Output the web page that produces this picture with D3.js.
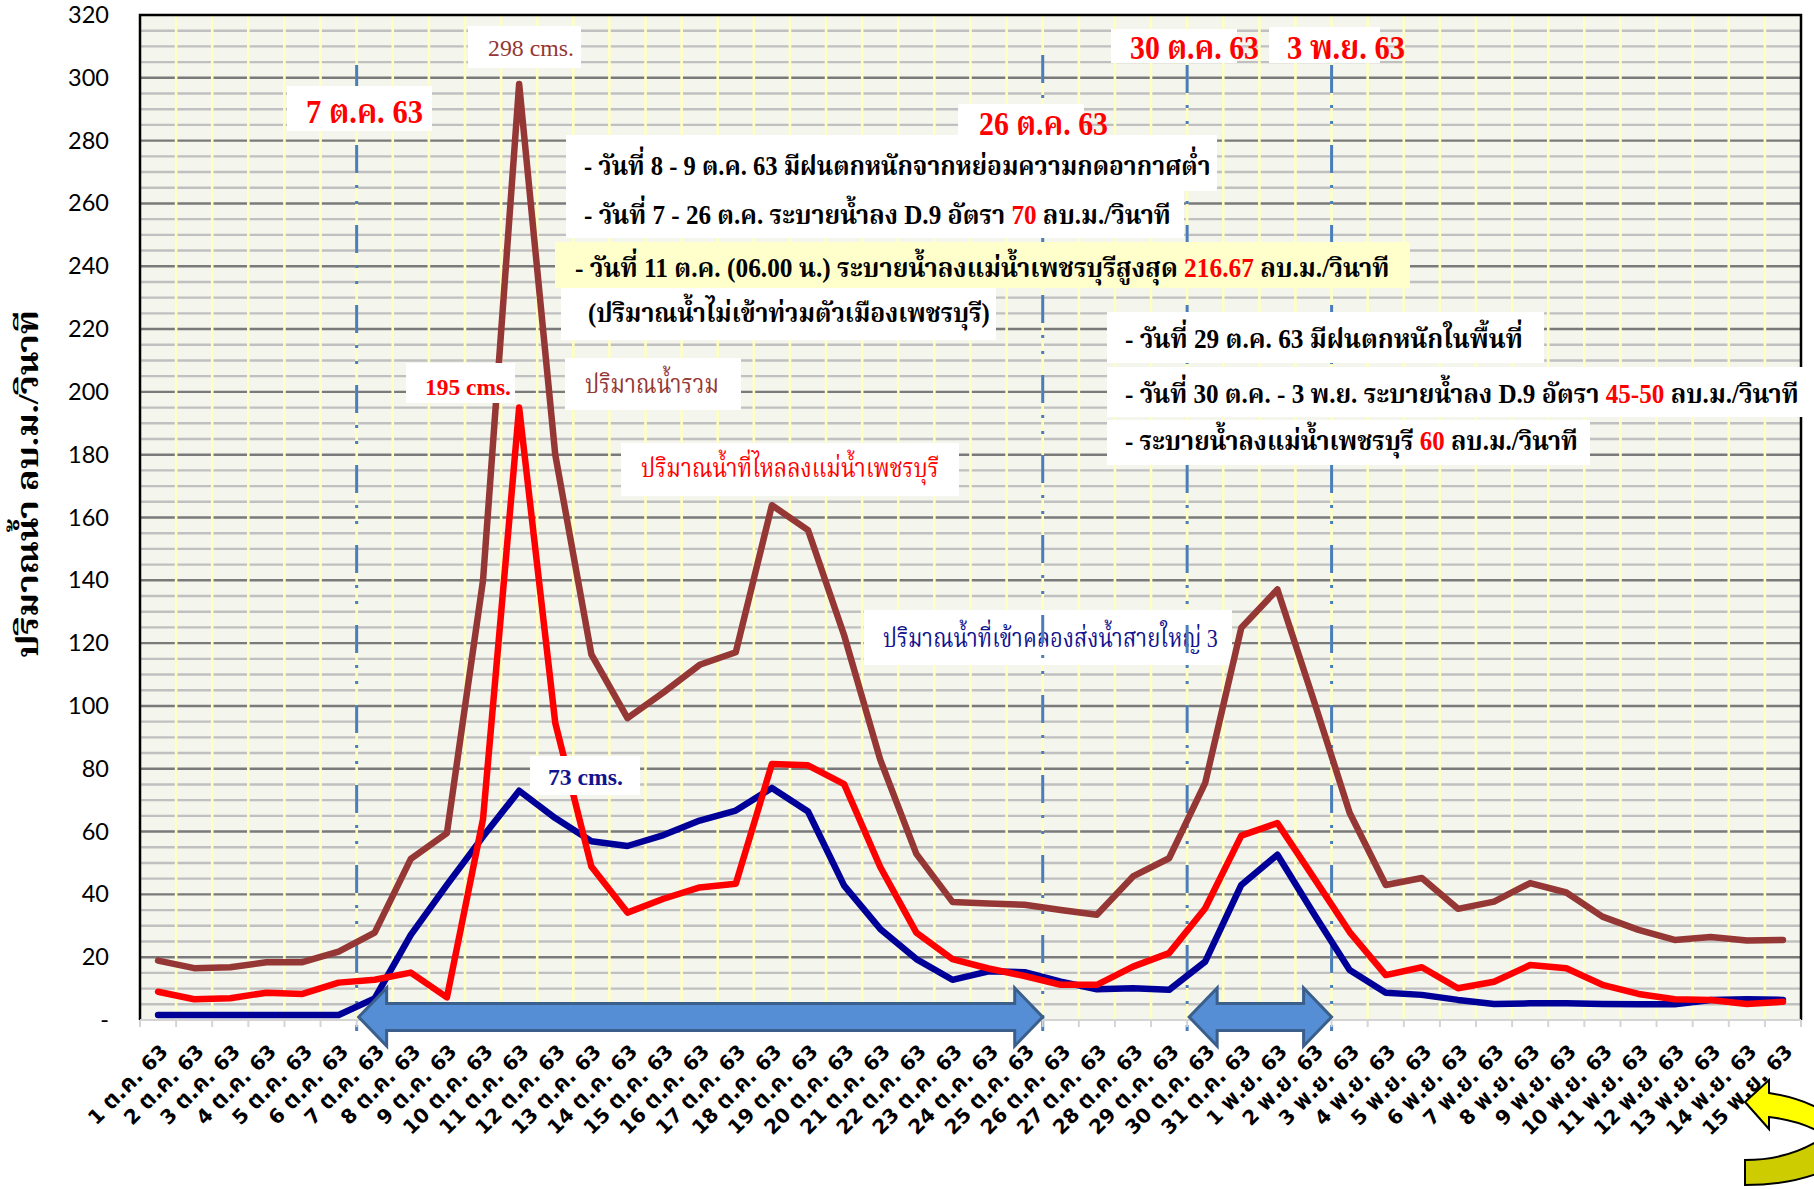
<!DOCTYPE html>
<html>
<head>
<meta charset="utf-8">
<script src="https://cdn.jsdelivr.net/npm/d3@7"></script>
<style>
  html, body { margin: 0; padding: 0; background: #ffffff; }
  svg { display: block; }
</style>
</head>
<body>
<svg id="chart" width="1814" height="1189"></svg>
<script>
// Daily flows, 1 Oct 2020 (2563) – 15 Nov 2020, cubic metres per second
const categories = [
  "1 ต.ค. 63", "2 ต.ค. 63", "3 ต.ค. 63", "4 ต.ค. 63", "5 ต.ค. 63", "6 ต.ค. 63", "7 ต.ค. 63",
  "8 ต.ค. 63", "9 ต.ค. 63", "10 ต.ค. 63", "11 ต.ค. 63", "12 ต.ค. 63", "13 ต.ค. 63", "14 ต.ค. 63",
  "15 ต.ค. 63", "16 ต.ค. 63", "17 ต.ค. 63", "18 ต.ค. 63", "19 ต.ค. 63", "20 ต.ค. 63", "21 ต.ค. 63",
  "22 ต.ค. 63", "23 ต.ค. 63", "24 ต.ค. 63", "25 ต.ค. 63", "26 ต.ค. 63", "27 ต.ค. 63", "28 ต.ค. 63",
  "29 ต.ค. 63", "30 ต.ค. 63", "31 ต.ค. 63",
  "1 พ.ย. 63", "2 พ.ย. 63", "3 พ.ย. 63", "4 พ.ย. 63", "5 พ.ย. 63", "6 พ.ย. 63", "7 พ.ย. 63",
  "8 พ.ย. 63", "9 พ.ย. 63", "10 พ.ย. 63", "11 พ.ย. 63", "12 พ.ย. 63", "13 พ.ย. 63", "14 พ.ย. 63",
  "15 พ.ย. 63"
];

// ปริมาณน้ำรวม (total)
const totalFlow = [
  18.9, 16.5, 16.8, 18.4, 18.4, 21.8, 27.8, 51.3, 59.5, 140, 298, 180, 116.4, 96.1,
  104.3, 113.1, 117.1, 163.9, 156, 122.5, 82.9, 52.9, 37.6, 37.1, 36.7, 35, 33.5, 45.7,
  51.5, 75.5, 124.9,
  137.1, 102, 66, 43, 45.2, 35.4, 37.7, 43.6, 40.6, 32.9, 28.7, 25.5, 26.4, 25.3, 25.5
];

// ปริมาณน้ำที่ไหลลงแม่น้ำเพชรบุรี (to the Phetchaburi river)
const riverFlow = [
  9.0, 6.6, 6.9, 8.7, 8.3, 11.9, 12.8, 15.1, 7.2, 64, 195, 94.6, 48.9, 34.2,
  38.6, 42.2, 43.4, 81.5, 81.1, 75.1, 48.7, 27.8, 19.4, 16.4, 14.0, 11.2, 11.2, 17,
  21.3, 35.6, 58.7,
  62.7, 45.4, 28, 14.3, 16.8, 10.1, 12.2, 17.5, 16.5, 11.2, 8.3, 6.6, 6.4, 5.1, 5.8
];

// ปริมาณน้ำที่เข้าคลองส่งน้ำสายใหญ่ 3 (main canal 3)
const canalFlow = [
  1.6, 1.6, 1.6, 1.6, 1.6, 1.6, 6.9, 27.1, 43, 58.4, 73, 64.3, 56.9, 55.4,
  58.9, 63.5, 66.7, 73.9, 66.4, 42.8, 29, 19.4, 12.8, 15.5, 15.2, 12.2, 9.8, 10.1,
  9.6, 18.6, 43,
  52.6, 34, 15.9, 8.7, 8, 6.4, 5.1, 5.3, 5.3, 5.1, 5, 5, 6.4, 6.6, 6.4
];

const yTicks = [0, 20, 40, 60, 80, 100, 120, 140, 160, 180, 200, 220, 240, 260, 280, 300, 320];

// Release periods marked on the chart
const markerDates = ["7 ต.ค. 63", "26 ต.ค. 63", "30 ต.ค. 63", "3 พ.ย. 63"];
const releasePeriods = [["7 ต.ค. 63", "26 ต.ค. 63"], ["30 ต.ค. 63", "3 พ.ย. 63"]];

// ---------------------------------------------------------------------------
const svg = d3.select("#chart");
const plot = { left: 140, right: 1801, top: 15, bottom: 1020 };

const x = d3.scaleBand().domain(categories).range([plot.left, plot.right]).padding(0);
const y = d3.scaleLinear().domain([0, 320]).range([plot.bottom, plot.top]);
const cx = c => x(c) + x.bandwidth() / 2;

const SERIF = "'Liberation Serif', 'Norasi', 'Noto Serif Thai', 'Noto Sans Thai', 'Tlwg Typo', 'Garuda', serif";
const SANS = "'DejaVu Sans', 'Tahoma', 'Noto Sans Thai', 'Loma', 'Garuda', sans-serif";

const COLORS = { total: "#953735", river: "#ff0000", canal: "#000099" };

// squeeze/stretch a text element horizontally to a given advance width
function fitWidth(sel, target, originX) {
  const w = sel.node().getComputedTextLength();
  if (w > 0) {
    const s = target / w;
    sel.attr("transform", `translate(${originX},0) scale(${s},1) translate(${-originX},0)`);
  }
}

// plot background
svg.append("rect")
  .attr("x", plot.left).attr("y", plot.top)
  .attr("width", plot.right - plot.left).attr("height", plot.bottom - plot.top)
  .attr("fill", "#f4f5ec");

// horizontal gridlines every 5, darker every 20
const grid = svg.append("g");
grid.selectAll("line.h")
  .data(d3.range(5, 320, 5))
  .join("line")
  .attr("x1", plot.left).attr("x2", plot.right)
  .attr("y1", d => y(d)).attr("y2", d => y(d))
  .attr("stroke", d => d % 20 === 0 ? "#7a7a7a" : "#c0c0c0")
  .attr("stroke-width", 2.4);

// vertical gridlines on category boundaries
grid.selectAll("line.v")
  .data(categories.slice(1))
  .join("line")
  .attr("x1", d => x(d)).attr("x2", d => x(d))
  .attr("y1", plot.top).attr("y2", plot.bottom)
  .attr("stroke", "#ffffc2")
  .attr("stroke-width", 2.6);

// note boxes / text helpers
function noteBox(g, b, fill) {
  g.append("rect")
    .attr("x", b[0]).attr("y", b[1])
    .attr("width", b[2] - b[0]).attr("height", b[3] - b[1])
    .attr("fill", fill || "#ffffff");
}
function noteText(g, opts) {
  const t = g.append("text")
    .attr("x", opts.x).attr("y", opts.y)
    .attr("font-family", opts.family || SERIF)
    .attr("font-size", opts.size)
    .attr("font-weight", opts.weight || "bold")
    .attr("fill", opts.color || "#000000");
  opts.parts.forEach(p => {
    t.append("tspan").attr("fill", p[1] || opts.color || "#000000").text(p[0]);
  });
  if (opts.width) fitWidth(t, opts.width, opts.x);
  return t;
}

// canal label sits beneath the date lines
const canalNote = svg.append("g");
noteBox(canalNote, [864, 610, 1232, 665]);
noteText(canalNote, { x: 883, y: 647, size: 26, weight: "normal", color: "#13138f",
  parts: [["ปริมาณน้ำที่เข้าคลองส่งน้ำสายใหญ่ 3"]], width: 335 });

// dash-dot-dot date lines
svg.append("g").selectAll("line")
  .data(markerDates)
  .join("line")
  .attr("x1", d => x(d)).attr("x2", d => x(d))
  .attr("y1", (d, i) => i === 1 ? 55 : 65)
  .attr("y2", 1031)
  .attr("stroke", "#4a7ebb")
  .attr("stroke-width", 3)
  .attr("stroke-dasharray", "28,12,3,13,3,21");

// series lines
const line = d3.line()
  .x((d, i) => cx(categories[i]))
  .y(d => y(d));

const seriesList = [
  { key: "total", values: totalFlow },
  { key: "canal", values: canalFlow },
  { key: "river", values: riverFlow }
];
svg.append("g").selectAll("path")
  .data(seriesList)
  .join("path")
  .attr("d", d => line(d.values))
  .attr("fill", "none")
  .attr("stroke", d => COLORS[d.key])
  .attr("stroke-width", 6.5)
  .attr("stroke-linejoin", "round")
  .attr("stroke-linecap", "round");

// plot frame: black top/left/right, grey category axis
const frame = svg.append("g");
frame.append("path")
  .attr("d", `M${plot.left},${plot.bottom} V${plot.top} H${plot.right} V${plot.bottom}`)
  .attr("fill", "none").attr("stroke", "#000").attr("stroke-width", 2.5);
frame.append("line")
  .attr("x1", plot.left).attr("x2", plot.right)
  .attr("y1", plot.bottom).attr("y2", plot.bottom)
  .attr("stroke", "#d4d4d4").attr("stroke-width", 2);
frame.selectAll("line.tick")
  .data(categories.concat(["end"]))
  .join("line")
  .attr("x1", (d, i) => plot.left + i * x.bandwidth())
  .attr("x2", (d, i) => plot.left + i * x.bandwidth())
  .attr("y1", plot.bottom).attr("y2", plot.bottom + 7)
  .attr("stroke", "#d4d4d4").attr("stroke-width", 2);

// notes
const notes = svg.append("g");
noteBox(notes, [468, 26, 581, 68]);
noteText(notes, { x: 488, y: 56, size: 24, weight: "normal", color: COLORS.total,
  parts: [["298 cms."]], width: 86 });

noteBox(notes, [287, 86, 432, 131]);
noteText(notes, { x: 306, y: 123, size: 34, color: "#ff0000", parts: [["7 ต.ค. 63"]], width: 117 });

noteBox(notes, [958, 104, 1084, 135]);
noteBox(notes, [1111, 29, 1237, 63]);
noteBox(notes, [1269, 27, 1380, 63]);

noteBox(notes, [566, 135, 1217, 191]);
noteBox(notes, [566, 191, 1184, 238]);
noteBox(notes, [555, 242, 1410, 288], "#ffffcc");
noteBox(notes, [561, 288, 996, 340]);
noteBox(notes, [1107, 312, 1544, 363]);
noteBox(notes, [1107, 367, 1803, 417]);
noteBox(notes, [1107, 420, 1590, 465]);

noteText(notes, { x: 979, y: 135, size: 34, color: "#ff0000", parts: [["26 ต.ค. 63"]], width: 129 });
noteText(notes, { x: 1130, y: 59, size: 34, color: "#ff0000", parts: [["30 ต.ค. 63"]], width: 129 });
noteText(notes, { x: 1287, y: 59, size: 34, color: "#ff0000", parts: [["3 พ.ย. 63"]], width: 118 });

noteText(notes, { x: 584, y: 175, size: 27,
  parts: [["- วันที่ 8 - 9 ต.ค. 63 มีฝนตกหนักจากหย่อมความกดอากาศต่ำ"]], width: 627 });
noteText(notes, { x: 584, y: 224, size: 27,
  parts: [["- วันที่ 7 - 26 ต.ค. ระบายน้ำลง D.9 อัตรา "], ["70", "#ff0000"], [" ลบ.ม./วินาที"]], width: 587 });
noteText(notes, { x: 575, y: 277, size: 27,
  parts: [["- วันที่ 11 ต.ค. (06.00 น.) ระบายน้ำลงแม่น้ำเพชรบุรีสูงสุด "], ["216.67", "#ff0000"], [" ลบ.ม./วินาที"]], width: 815 });
noteText(notes, { x: 588, y: 322, size: 27,
  parts: [["(ปริมาณน้ำไม่เข้าท่วมตัวเมืองเพชรบุรี)"]], width: 402 });

noteText(notes, { x: 1125, y: 348, size: 27,
  parts: [["- วันที่ 29 ต.ค. 63 มีฝนตกหนักในพื้นที่"]], width: 398 });
noteText(notes, { x: 1125, y: 403, size: 27,
  parts: [["- วันที่ 30 ต.ค. - 3 พ.ย. ระบายน้ำลง D.9 อัตรา "], ["45-50", "#ff0000"], [" ลบ.ม./วินาที"]], width: 674 });
noteText(notes, { x: 1125, y: 450, size: 27,
  parts: [["- ระบายน้ำลงแม่น้ำเพชรบุรี "], ["60", "#ff0000"], [" ลบ.ม./วินาที"]], width: 453 });

noteBox(notes, [406, 363, 515, 403]);
noteText(notes, { x: 425, y: 395, size: 24, color: "#ff0000", parts: [["195 cms."]], width: 86 });

noteBox(notes, [565, 358, 741, 410]);
noteText(notes, { x: 585, y: 393, size: 26, weight: "normal", color: COLORS.total,
  parts: [["ปริมาณน้ำรวม"]], width: 134 });

noteBox(notes, [621, 443, 959, 496]);
noteText(notes, { x: 641, y: 477, size: 26, weight: "normal", color: "#ff0000",
  parts: [["ปริมาณน้ำที่ไหลลงแม่น้ำเพชรบุรี"]], width: 298 });

noteBox(notes, [530, 756, 640, 795]);
noteText(notes, { x: 548, y: 785, size: 24, color: "#13138f", parts: [["73 cms."]], width: 75 });

// value axis
const yAxis = svg.append("g")
  .attr("transform", `translate(${plot.left},0)`)
  .call(d3.axisLeft(y).tickValues(yTicks).tickSize(0).tickPadding(31)
    .tickFormat(d => d === 0 ? "-" : d));
yAxis.select(".domain").remove();
yAxis.selectAll("text")
  .attr("font-family", "Lato, 'Open Sans', sans-serif")
  .attr("font-size", 23.5)
  .attr("fill", "#000");

// value axis title
const yTitle = svg.append("g").attr("transform", "translate(38,484) rotate(-90)")
  .append("text")
  .attr("x", 0).attr("y", 0)
  .attr("text-anchor", "middle")
  .attr("font-family", SERIF)
  .attr("font-size", 30)
  .attr("font-weight", "bold")
  .text("ปริมาณน้ำ  ลบ.ม./วินาที");
fitWidth(yTitle, 348, 0);

// category axis labels, rotated; Thai month abbreviation set a little larger
const xAxis = svg.append("g")
  .attr("transform", `translate(0,${plot.bottom})`)
  .call(d3.axisBottom(x).tickSize(0).tickPadding(0));
xAxis.select(".domain").remove();
xAxis.selectAll("text")
  .attr("font-family", SANS)
  .attr("font-size", 20)
  .attr("font-weight", "bold")
  .attr("fill", "#000")
  .attr("text-anchor", "end")
  .attr("x", 0).attr("y", 0).attr("dy", 0)
  .attr("transform", "translate(11,33) rotate(-45)")
  .each(function(d) {
    const parts = d.split(" ");
    const t = d3.select(this).text(null);
    t.append("tspan").text(parts[0] + " ");
    t.append("tspan").attr("font-size", 23).text(parts[1]);
    t.append("tspan").text(" " + parts[2]);
  });

// double-headed block arrows along the bottom for the release periods
function blockArrow(x0, x1, yc) {
  const head = 28, shaftH = 13.5, headH = 29;
  return `M${x0},${yc} L${x0 + head},${yc - headH} L${x0 + head},${yc - shaftH} ` +
    `L${x1 - head},${yc - shaftH} L${x1 - head},${yc - headH} L${x1},${yc} ` +
    `L${x1 - head},${yc + headH} L${x1 - head},${yc + shaftH} L${x0 + head},${yc + shaftH} ` +
    `L${x0 + head},${yc + headH} Z`;
}
svg.append("g").selectAll("path")
  .data(releasePeriods)
  .join("path")
  .attr("d", d => blockArrow(x(d[0]) + 2, x(d[1]), 1017))
  .attr("fill", "#558ed5")
  .attr("stroke", "#3a5f8b")
  .attr("stroke-width", 3)
  .attr("stroke-linejoin", "miter");

// curved yellow pointer at the bottom right corner
const pointer = svg.append("g").attr("stroke", "#000").attr("stroke-width", 2).attr("stroke-linejoin", "miter");
pointer.append("path")
  .attr("d", "M1745,1160 Q1785,1160 1816,1142 L1816,1174 Q1785,1185 1745,1185 Z")
  .attr("fill", "#cccc00");
pointer.append("path")
  .attr("d", "M1745,1102 L1769,1080 L1769,1093 Q1795,1097 1816,1107 L1816,1130 Q1795,1120 1769,1117 L1769,1129 Z")
  .attr("fill", "#ffff00");
</script>
</body>
</html>
